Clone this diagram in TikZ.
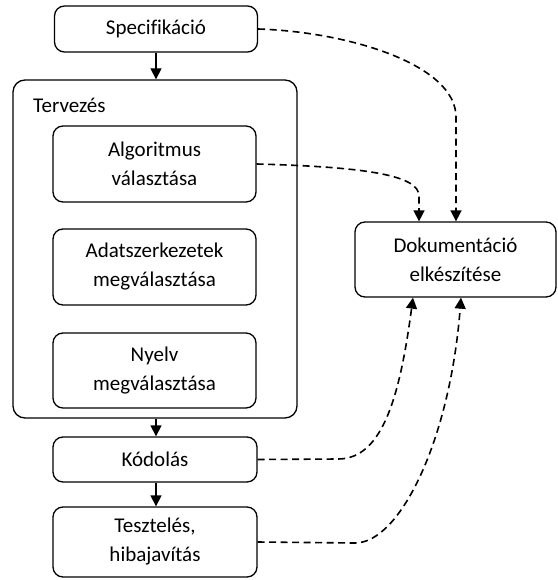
\documentclass[tikz,border=0pt]{standalone}
\usepackage{fontspec}
\setmainfont[Ligatures=NoCommon]{Carlito}
\usetikzlibrary{arrows.meta,calc}

\begin{document}
\begin{tikzpicture}[x=1pt,y=-1pt,
  every node/.style={font=\fontsize{21}{29}\selectfont},
  box/.style={draw, line width=1.3pt, rounded corners=10pt, align=center,
    inner sep=0pt, minimum width=203pt},
  flow/.style={line width=1.3pt, -{Triangle[length=11pt,width=11pt]}},
  dep/.style={line width=1.6pt, dash pattern=on 7pt off 4.5pt,
    -{Triangle[length=11pt,width=11pt]}}]
\useasboundingbox (0,0) rectangle (557,580);

% main process boxes
\node[box, minimum height=46pt] (spec) at (156,29) {Specifikáció};
\node[box, minimum width=284pt, minimum height=338pt, rounded corners=12pt]
  (terv) at (155,249) {};
\node[anchor=west, inner sep=0pt] (tervlbl) at (33,105) {Tervezés};
\node[box, minimum height=76pt] (alg) at (154.5,164) {Algoritmus\\választása};
\node[box, minimum height=76pt] (adat) at (154.5,267) {Adatszerkezetek\\megválasztása};
\node[box, minimum height=75pt] (nyelv) at (154.5,370.5) {Nyelv\\megválasztása};
\node[box, minimum width=204pt, minimum height=45pt] (kod) at (155,459.5) {Kódolás};
\node[box, minimum width=204pt, minimum height=70pt] (test) at (155,542) {Tesztelés,\\hibajavítás};

% documentation box
\node[box, minimum width=201pt, minimum height=75pt] (dok) at (455.5,259.5)
  {Dokumentáció\\elkészítése};

% sequence arrows
\draw[flow] (spec.south) -- (spec.south |- terv.north);
\draw[flow] (terv.south -| spec.south) -- (kod.north -| spec.south);
\draw[flow] (kod.south -| spec.south) -- (test.north -| spec.south);

% bend points of the documentation links
\coordinate (sbend) at (456,117);
\coordinate (abend) at (419,196);
\coordinate (kbend) at (338,459);
\coordinate (tbend) at (355,543);
\coordinate (kend) at (413,297);
\coordinate (tend) at (461,297);

% documentation links
\draw[dep] (spec.east) .. controls (350,32) and (456,65) .. (sbend)
  -- (sbend |- dok.north);
\draw[dep] (alg.east) .. controls (370,167) and (419,176) .. (abend)
  -- (abend |- dok.north);
\draw[dep] (kod.east) -- (kbend) .. controls (383,459) and (400,395) .. (kend |- dok.south);
\draw[dep] (test.east) -- (tbend) .. controls (400,543) and (450,440) .. (tend |- dok.south);
\end{tikzpicture}
\end{document}
